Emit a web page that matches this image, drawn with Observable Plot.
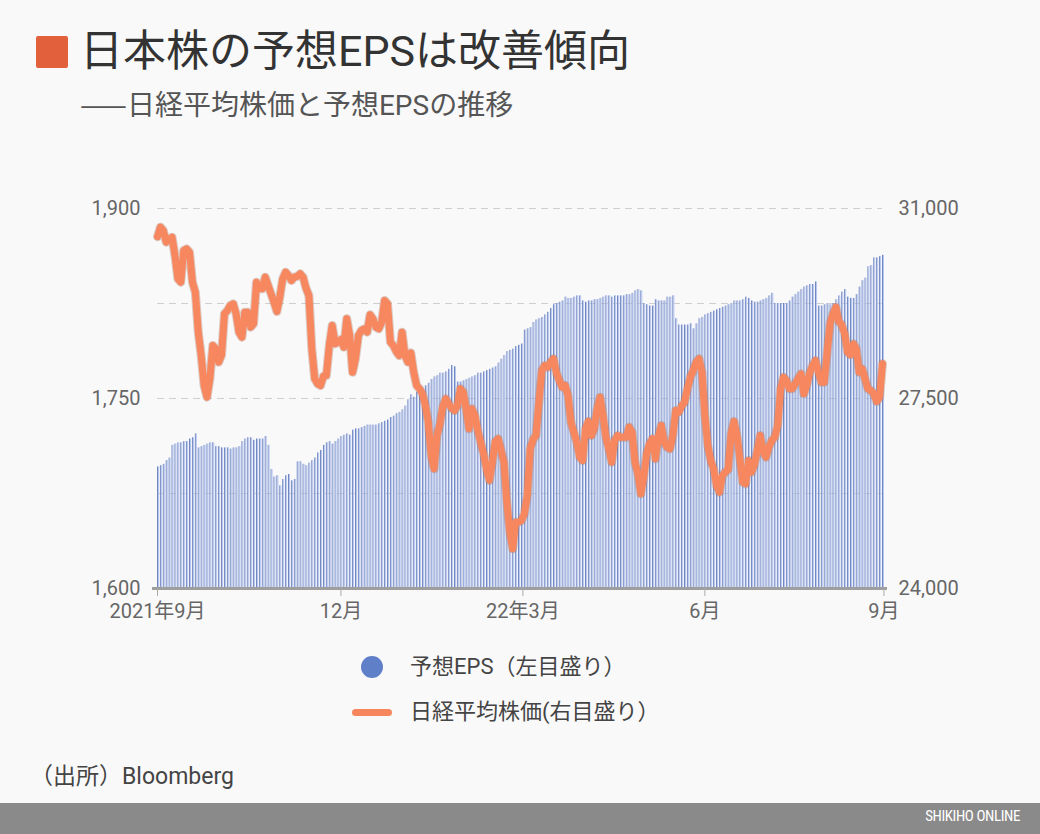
<!DOCTYPE html>
<html><head><meta charset="utf-8">
<script src="https://cdn.jsdelivr.net/npm/d3@7"></script>
<script src="https://cdn.jsdelivr.net/npm/@observablehq/plot@0.6"></script>
<style>
html,body{margin:0;padding:0;background:#f9f9f9;width:1040px;height:834px;overflow:hidden;font-family:Roboto,"Noto Sans CJK JP",sans-serif;}
.abs{position:absolute;white-space:nowrap;}
#sq{left:36px;top:36px;width:32px;height:32px;background:#e2603c;border-radius:2px;}
#title{left:80px;top:25px;font-size:43px;color:#333;line-height:52px;}
#sub{left:80px;top:85px;font-size:28px;color:#555;line-height:36px;}
#sub .dash{font-family:"Noto Sans CJK JP",sans-serif;}
#chart{left:0;top:180px;}
.leg{font-size:22px;color:#444;line-height:30px;}
#cap{left:30px;top:757px;font-size:23px;color:#444;}
#foot{left:0;top:803px;width:1040px;height:31px;background:#8a8a8a;}
#foottxt{right:20px;top:807px;font-size:15px;color:#fff;font-family:"Roboto Condensed",Roboto,sans-serif;letter-spacing:-0.4px;}
</style></head>
<body>
<div class="abs" id="sq"></div>
<div class="abs" id="title">日本株の予想EPSは改善傾向</div>
<div class="abs" id="sub"><span class="dash">——</span>日経平均株価と予想EPSの推移</div>
<div class="abs" id="chart"></div>
<div class="abs" style="left:361px;top:656px;width:22px;height:22px;border-radius:50%;background:#5f7fc8;"></div>
<div class="abs leg" style="left:410px;top:652px;">予想EPS（左目盛り）</div>
<div class="abs" style="left:352px;top:709px;width:40px;height:7px;border-radius:4px;background:#f5865e;"></div>
<div class="abs leg" style="left:410px;top:697px;">日経平均株価(右目盛り）</div>
<div class="abs" id="cap">（出所）Bloomberg</div>
<div class="abs" id="foot"></div>
<div class="abs" id="foottxt">SHIKIHO ONLINE</div>
<script>
// 予想EPS (left scale), one value per trading day
const eps = [
1696,1697,1698,1701,1703,1713,1714,1715,1715,1716,
1716,1718,1719,1722,1711,1712,1713,1714,1715,1715,
1712,1712,1711,1711,1711,1710,1711,1711,1712,1716,
1718,1719,1719,1717,1718,1718,1718,1720,1713,1694,
1688,1689,1681,1686,1689,1690,1685,1686,1700,1700,
1698,1697,1699,1701,1703,1707,1709,1713,1715,1716,
1714,1716,1718,1720,1721,1722,1721,1725,1726,1726,
1727,1728,1729,1729,1729,1729,1730,1731,1732,1733,
1735,1736,1738,1739,1741,1744,1749,1753,1751,1755,
1758,1758,1760,1762,1765,1767,1768,1770,1770,1771,
1773,1776,1775,1763,1763,1764,1765,1766,1767,1768,
1770,1770,1771,1772,1773,1774,1775,1778,1781,1784,
1787,1788,1789,1791,1792,1793,1804,1805,1806,1810,
1812,1813,1814,1816,1818,1821,1824,1825,1826,1827,
1830,1829,1829,1830,1831,1831,1827,1826,1827,1827,
1828,1828,1829,1830,1831,1831,1830,1831,1831,1831,
1831,1832,1832,1833,1835,1836,1835,1825,1824,1823,
1823,1828,1827,1827,1827,1830,1830,1831,1813,1808,
1808,1808,1808,1809,1805,1809,1813,1814,1816,1817,
1818,1819,1820,1821,1822,1823,1824,1825,1827,1827,
1827,1828,1830,1829,1827,1826,1826,1827,1828,1829,
1831,1833,1825,1825,1825,1825,1825,1827,1830,1832,
1834,1836,1838,1839,1840,1840,1842,1823,1823,1824,
1825,1824,1825,1828,1831,1834,1836,1830,1829,1829,
1832,1838,1843,1845,1854,1855,1861,1861,1862,1863
];
// 日経平均株価 (right scale)
const nikkei = [
30480,30656,30595,30380,30441,30471,30134,29705,29643,30226,
30257,30195,29643,29459,28722,28292,27740,27525,27863,28477,
28415,28169,28300,29060,29121,29213,29244,29060,28722,28630,
29090,29090,28814,28876,29643,29520,29520,29735,29582,29428,
29274,29103,29366,29705,29827,29766,29674,29735,29750,29797,
29735,29533,29397,28415,27863,27770,27740,27911,27924,28477,
28845,28508,28538,28588,28446,28968,28661,27985,28231,28661,
28753,28784,28722,29042,28968,28814,28784,28906,29305,29244,
28538,28477,28366,28292,28722,28292,28169,28342,27985,27740,
27679,27586,27371,27064,26450,26205,26818,27034,27350,27494,
27402,27322,27279,27371,27679,27617,27310,26942,27310,27187,
26911,26696,26481,26205,25990,26327,26708,26758,26542,26327,
25590,25037,24731,25222,25222,25253,25376,25713,26573,26745,
26818,27432,28016,28108,28077,28169,28231,27973,27832,27709,
27740,27555,27064,26880,26696,26420,26358,26942,27080,26818,
26942,27310,27524,27187,26788,26573,26327,26727,26818,26788,
26788,26788,26972,26880,26327,26113,25745,26051,26481,26665,
26758,26389,26788,27003,26696,26604,26573,26818,27279,27248,
27359,27432,27679,27893,28016,28169,28231,27985,27187,26634,
26358,26205,25898,25774,26082,26143,26192,26850,27080,26825,
26395,25959,25929,26358,26143,26279,26542,26818,26511,26420,
26604,26727,26788,27003,27679,27893,27832,27679,27679,27770,
27863,27955,27586,27740,27973,28108,28200,27985,27801,27801,
28354,28876,29060,29182,28919,28857,28692,28354,28305,28508,
28415,27985,28047,27863,27679,27648,27586,27445,27524,28139
];
// x-axis month ticks (position in trading-day index) and labels
const xTickPos = [0, 63, 125.5, 188, 249.5];
const xTickLabels = ["2021年9月", "12月", "22年3月", "6月", "9月"];
// left axis
const epsTicks = [1600, 1750, 1900];
const epsTickLabels = ["1,600", "1,750", "1,900"];
const epsGrid = [1675, 1750, 1825, 1900];
// right axis
const nikkeiDomain = [24000, 31000];
const nikkeiTicks = [24000, 27500, 31000];
const nikkeiTickLabels = ["24,000", "27,500", "31,000"];

const epsDomain = [1600, 1900];
const toEps = v => epsDomain[0] + (v - nikkeiDomain[0]) / (nikkeiDomain[1] - nikkeiDomain[0]) * (epsDomain[1] - epsDomain[0]);
const idx = d3.range(eps.length);
const rightPos = nikkeiTicks.map(toEps);

const chart = Plot.plot({
  width: 1040, height: 460,
  marginTop: 28, marginBottom: 52, marginLeft: 157, marginRight: 158,
  style: {background: "transparent", fontFamily: 'Roboto,"Noto Sans CJK JP",sans-serif', fontSize: "20px", color: "#666", overflow: "visible"},
  x: {type: "linear", domain: [0, eps.length - 1]},
  y: {domain: epsDomain},
  marks: [
    Plot.ruleY(epsGrid, {stroke: "#cfcfcf", strokeDasharray: "7,5", strokeWidth: 1.2}),
    Plot.ruleX(idx, {x: d => d, y1: epsDomain[0], y2: i => eps[i], stroke: "#7086bf", strokeWidth: 1}),
    Plot.ruleX(idx, {x: d => d, y1: epsDomain[0], y2: i => eps[i], stroke: "#b7c7f2", strokeWidth: 1, dx: 1}),
    Plot.ruleY([epsDomain[0]], {stroke: "#9e9e9e", strokeWidth: 3, insetLeft: -5, insetRight: -5}),
    Plot.axisX({ticks: xTickPos, tickFormat: d => xTickLabels[xTickPos.indexOf(d)], tickSize: 8, tickPadding: 7, stroke: "#aaa", label: null}),
    Plot.axisY({anchor: "left", ticks: epsTicks, tickFormat: d => epsTickLabels[epsTicks.indexOf(d)], tickSize: 0, tickPadding: 17, label: null}),
    Plot.axisY({anchor: "right", ticks: rightPos, tickFormat: d => nikkeiTickLabels[rightPos.indexOf(d)], tickSize: 0, tickPadding: 16, label: null}),
    Plot.line(idx, {x: d => d, y: i => toEps(nikkei[i]), stroke: "#a9705c", strokeWidth: 9, strokeOpacity: 0.35, strokeLinejoin: "round"}),
    Plot.line(idx, {x: d => d, y: i => toEps(nikkei[i]), stroke: "#f7875f", strokeWidth: 7, strokeLinejoin: "round", strokeLinecap: "round"})
  ]
});
document.getElementById("chart").appendChild(chart);
</script>
</body></html>
